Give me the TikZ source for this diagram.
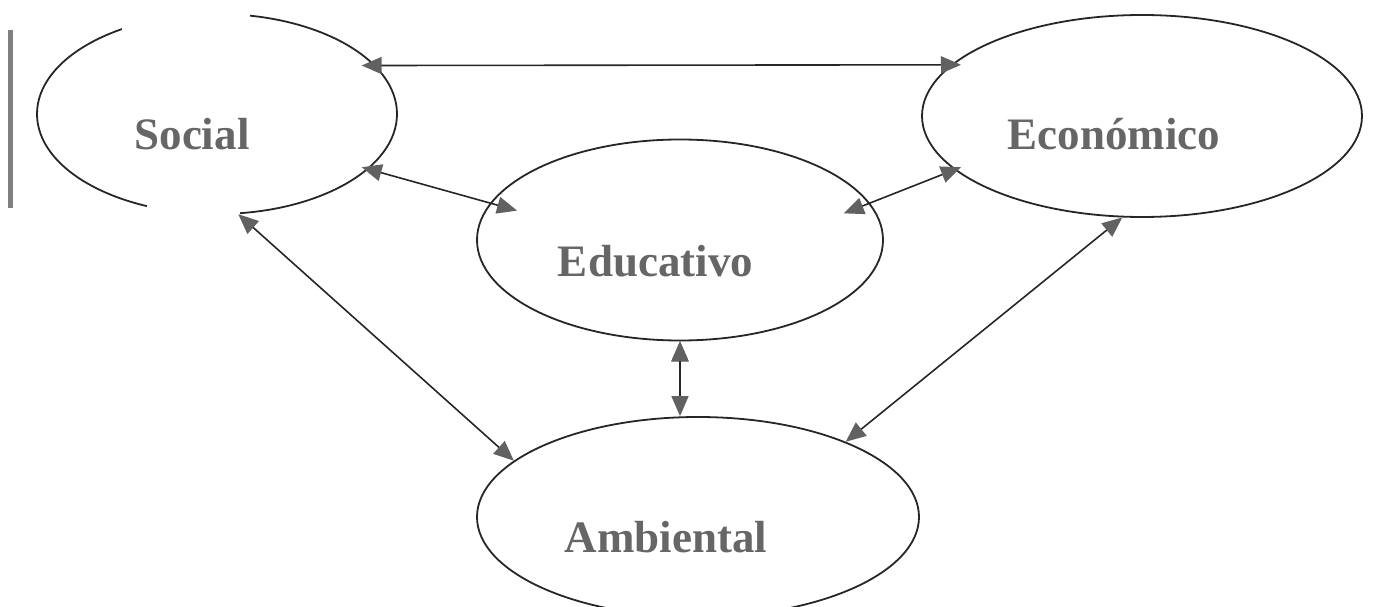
\documentclass[tikz,border=0pt]{standalone}
\usepackage{fontspec}
\setmainfont{Liberation Serif}
\usepackage{tikz}
\usetikzlibrary{arrows.meta,shapes.geometric}

\begin{document}
\begin{tikzpicture}[x=1pt, y=1pt,
  area/.style={ellipse, draw=black!85, line width=1.8pt, inner sep=0pt},
  word/.style={anchor=base, text=black!60, font=\fontsize{45}{50}\selectfont\bfseries},
  link/.style={{Triangle[length=20pt,width=17pt,color=black!62]}-{Triangle[length=20pt,width=17pt,color=black!62]},
    draw=black!85, line width=1.6pt}]
 \useasboundingbox (0,0) rectangle (1377,606);
 % the four areas
 \node (social) [area, minimum width=360pt, minimum height=200pt] at (217,492) {};
 \node (econ)   [area, minimum width=440pt, minimum height=202pt] at (1142,490) {};
 \node (educ)   [area, minimum width=406pt, minimum height=201pt] at (680,366) {};
 \node (ambi)   [area, minimum width=442pt, minimum height=200pt] at (698,89) {};
 % gaps of the scan
 \fill[white] (122,574) rectangle (250,606);
 \fill[white] (147,384) rectangle (240,408);
 \draw[black!50, line width=5pt] (10,576) -- (10,398);
 % labels
 \node (social-txt) [word] at (192,456) {Social};
 \node (econ-txt)   [word] at (1114,456) {Económico};
 \node (educ-txt)   [word] at (655.5,329) {Educativo};
 \node (ambi-txt)   [word] at (666,54) {Ambiental};
 % links
 \path[link]
  (social.17.3) edge [shorten <=-14pt, shorten >=-10pt] (econ.165)
  (social.-20.2) edge [shorten <=-7pt, shorten >=-28pt] (educ.169.6)
  (educ.11.2) edge [shorten <=-28pt, shorten >=-7pt] (econ.196)
  (social.-78) edge (ambi.163.6)
  (econ.-101.4) edge (ambi.27.4)
  (educ.south) edge (educ.south |- ambi.north)
  ;
\end{tikzpicture}
\end{document}
